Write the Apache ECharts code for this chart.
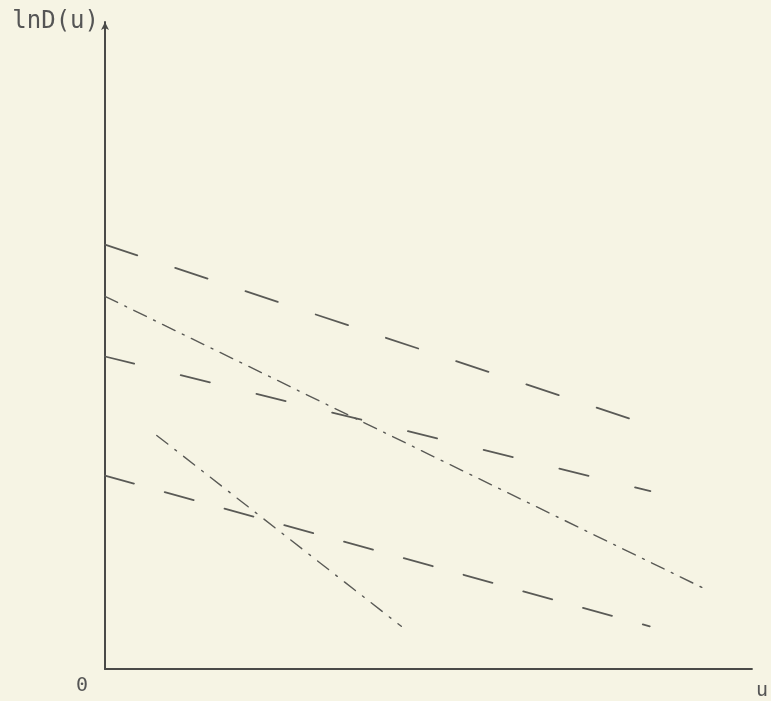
<!DOCTYPE html>
<html>
<head>
<meta charset="utf-8">
<script src="https://cdn.jsdelivr.net/npm/echarts@6/dist/echarts.min.js"></script>
<style>
html,body{margin:0;padding:0;background:#f6f4e4;}
#chart{width:771px;height:701px;}
</style>
</head>
<body>
<div id="chart"></div>
<script>
// Endpoints of each straight line (u, lnD(u))
const lineA = [[0, 6.56], [8.62, 3.70]];
const lineB = [[0, 5.76], [9.31, 1.22]];
const lineC = [[0, 4.83], [8.43, 2.75]];
const lineD = [[0, 2.99], [8.42, 0.66]];
const lineE = [[0.80, 3.61], [4.58, 0.66]];
const yName = 'lnD(u)';
const xName = 'u';
const originLabel = '0';

const ink = '#5a5a56';
const chart = echarts.init(document.getElementById('chart'));
function mk(data, type, w) {
  return {
    type: 'line', data: data, symbol: 'none', silent: true,
    lineStyle: { color: ink, width: w, type: type, cap: 'round' }
  };
}
chart.setOption({
  backgroundColor: '#f6f4e4',
  animation: false,
  grid: { left: 105, right: 16, top: 22, bottom: 31 },
  xAxis: {
    type: 'value', min: 0, max: 10,
    axisLine: { lineStyle: { color: '#4a4a48', width: 2 } },
    axisTick: { show: false }, axisLabel: { show: false }, splitLine: { show: false },
    name: xName, nameLocation: 'end', nameGap: 4,
    nameTextStyle: { fontFamily: 'DejaVu Sans Mono', fontSize: 20, color: '#555',
      verticalAlign: 'top', padding: [12, 0, 0, 0] }
  },
  yAxis: {
    type: 'value', min: 0, max: 10,
    axisLine: { lineStyle: { color: '#4a4a48', width: 2 }, symbol: ['none', 'arrow'], symbolSize: [6, 8] },
    axisTick: { show: false }, axisLabel: { show: false }, splitLine: { show: false },
    name: yName, nameLocation: 'end', nameGap: 0,
    nameTextStyle: { fontFamily: 'DejaVu Sans Mono', fontSize: 24, color: '#555',
      align: 'right', verticalAlign: 'middle', padding: [0, 6, 0, 0] }
  },
  graphic: [{
    type: 'text', left: 76, top: 676,
    style: { text: originLabel, font: '20px "DejaVu Sans Mono"', fill: '#555' }
  }],
  series: [
    mk(lineA, [34, 40], 1.8),
    mk(lineB, [14, 8, 2, 8], 1.4),
    mk(lineC, [30, 48], 1.8),
    mk(lineD, [30, 32], 1.8),
    mk(lineE, [14, 9, 2, 9], 1.4)
  ]
});
</script>
</body>
</html>
